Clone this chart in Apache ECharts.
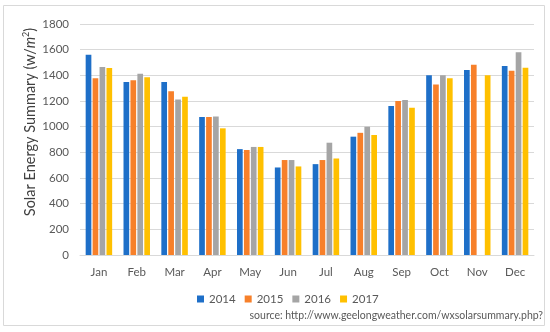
<!DOCTYPE html>
<html><head><meta charset="utf-8">
<script src="https://cdn.jsdelivr.net/npm/echarts@6/dist/echarts.min.js"></script>
<style>html,body{margin:0;padding:0;background:#fff}#c{width:550px;height:332px}</style>
</head><body><div id="c"></div>
<script>
const months = ['Jan','Feb','Mar','Apr','May','Jun','Jul','Aug','Sep','Oct','Nov','Dec'];
const years = ['2014','2015','2016','2017'];
const v2014 = [1560,1348,1348,1075,825,682,708,922,1162,1400,1442,1472];
const v2015 = [1378,1362,1276,1075,818,740,740,952,1200,1328,1482,1435];
const v2016 = [1465,1412,1212,1080,842,740,875,1000,1208,1400,null,1580];
const v2017 = [1458,1385,1233,987,842,690,752,935,1148,1378,1400,1460];
const yTicks = [0,200,400,600,800,1000,1200,1400,1600,1800];
const colors = ['#1E6FC8','#F7802A','#A5A5A5','#FFC000'];
const FONT = 'Lato';

const chart = echarts.init(document.getElementById('c'), null, {renderer:'canvas'});
const seriesData = [v2014, v2015, v2016, v2017];
chart.setOption({
  animation:false,
  color: colors,
  grid:{left:80, right:16, top:24, bottom:77},
  xAxis:{type:'category', data:months,
    axisLine:{lineStyle:{color:'#d9d9d9'}}, axisTick:{show:false},
    axisLabel:{color:'#595959', fontSize:11.5, fontFamily:FONT, margin:11}},
  yAxis:{type:'value', min:yTicks[0], max:yTicks[yTicks.length-1], interval:200,
    axisLine:{show:false}, axisTick:{show:false},
    splitLine:{lineStyle:{color:'#d9d9d9', width:1}},
    axisLabel:{color:'#595959', fontSize:11.5, fontFamily:FONT, margin:11, formatter:(v)=>String(v)}},
  legend:{left:192, top:288, itemWidth:7, itemHeight:7, itemGap:9,
    icon:'rect', textStyle:{color:'#595959', fontSize:11.5, fontFamily:FONT}, data:years},
  series: years.map((y,i)=>({name:y, type:'bar', data:seriesData[i],
    barGap:'22%', barCategoryGap:'30%'})),
  graphic:[
    {type:'rect', shape:{x:3.5,y:5.5,width:541,height:320}, style:{fill:null, stroke:'#d9d9d9', lineWidth:1}, silent:true},
    {type:'text', x:30, y:122, rotation:Math.PI/2,
      style:{text:'{a|Solar Energy Summary (w/}{i|m}{s|2}{a|)}', align:'center', verticalAlign:'middle',
        rich:{a:{fontSize:14.5, fontFamily:FONT, fill:'#404040'}, i:{fontSize:14.5, fontFamily:FONT, fontStyle:'italic', fill:'#404040'},
          s:{fontSize:9, fontFamily:FONT, fill:'#404040', verticalAlign:'top', padding:[0,0,8,0]}}}},
    {type:'text', right:7, top:310,
      style:{text:'source: http://www.geelongweather.com/wxsolarsummary.php?', fontSize:10.5, fontFamily:FONT, fill:'#595959'}}
  ]
});
</script></body></html>
